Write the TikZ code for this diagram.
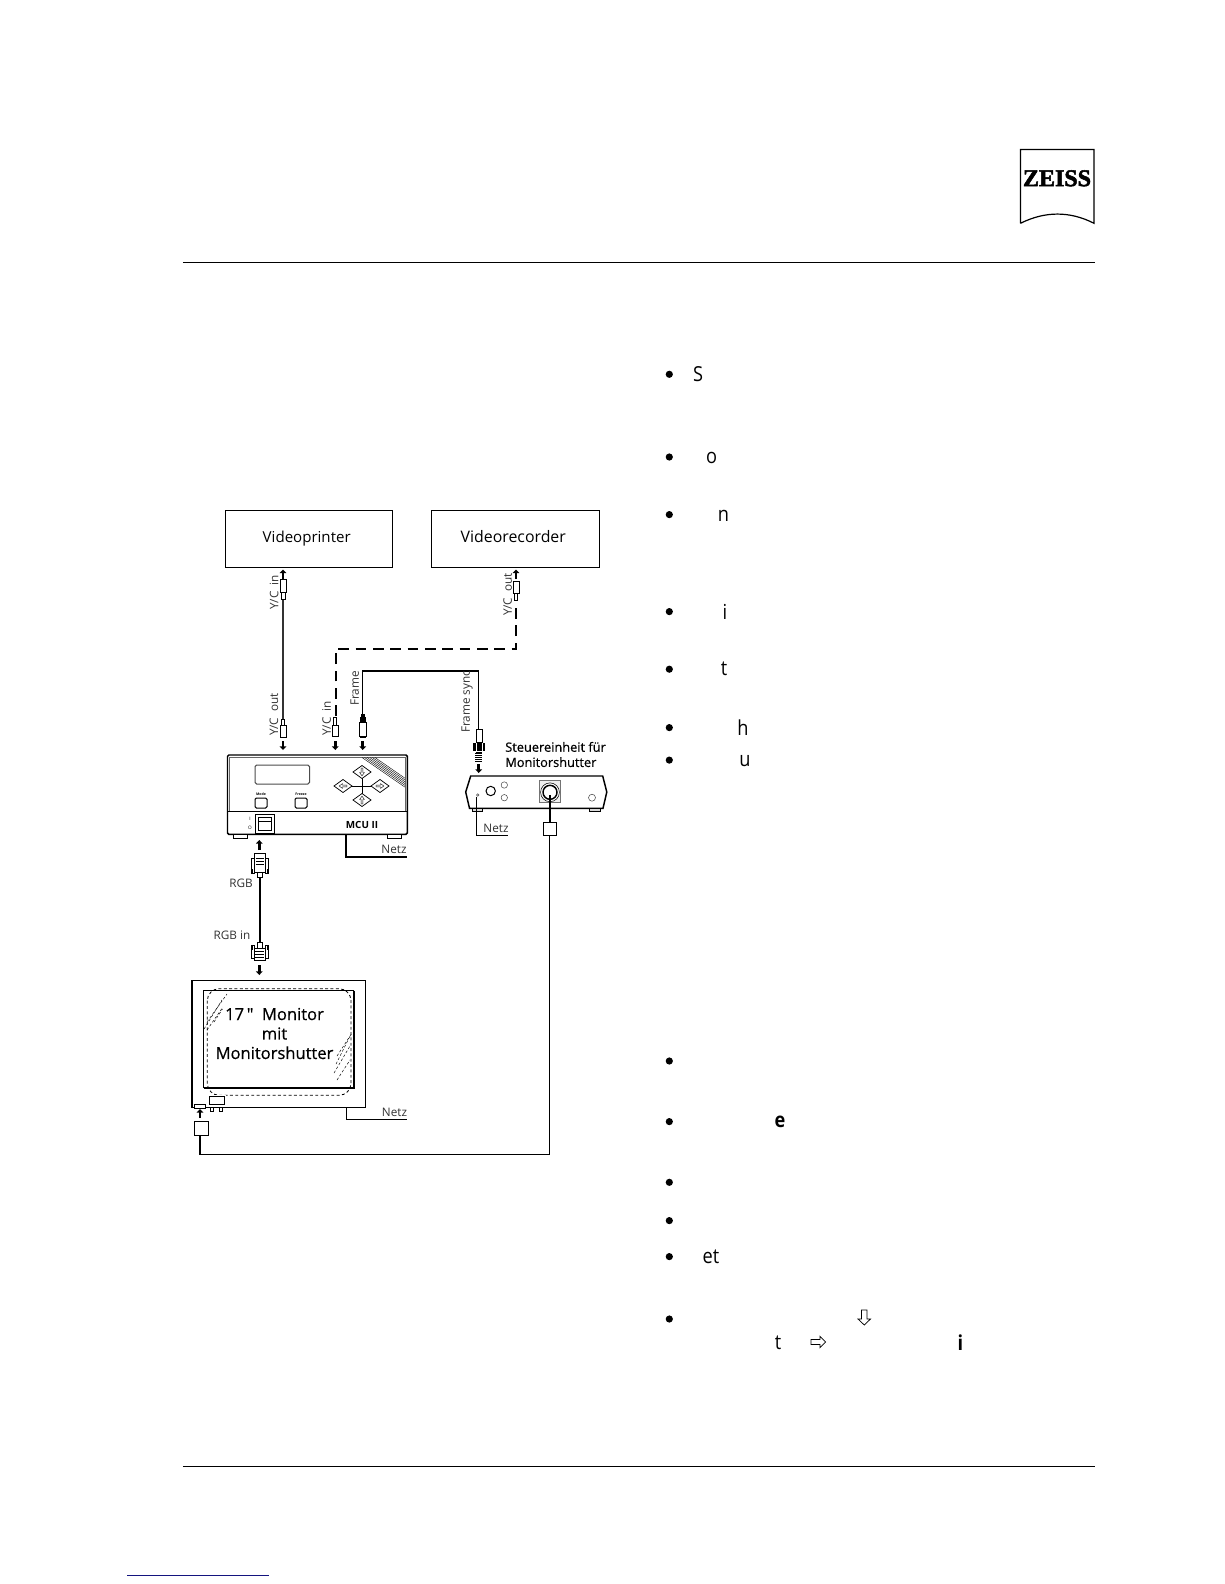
\documentclass[tikz,border=0pt]{standalone}
\usepackage{fontspec}
\setmainfont{Open Sans}
\newfontfamily\plainfont[FakeBold=0.5]{Open Sans}
\newfontfamily\heavyfont[FakeBold=0.5,Ligatures=TeX]{Open Sans}
\newfontfamily\lgfont[FakeBold=2.2]{Liberation Serif}
\newfontfamily\arfont[FakeStretch=0.88]{Open Sans}
\usetikzlibrary{calc}
\definecolor{linkblue}{HTML}{14147F}
\tikzset{
  px/.style={x=0.75pt,y=-0.75pt},
  thin line/.style={line width=0.75pt},
  mid line/.style={line width=1.1pt},
  heavy line/.style={line width=1.6pt},
  lbl/.style={inner sep=0pt,font=\fontsize{8.8}{10}\selectfont,text=black!80},
  vlbl/.style={lbl,rotate=90},
  boxlbl/.style={inner sep=0pt,anchor=base},
  monlbl/.style={inner sep=0pt,font=\heavyfont\fontsize{12.4}{14.6}\selectfont,align=center},
  frag/.style={inner sep=0pt,font=\arfont\fontsize{15.5}{18}\selectfont},
  fragb/.style={inner sep=0pt,font=\arfont\bfseries\fontsize{15.5}{18}\selectfont},
  bul/.style={circle,fill=black,inner sep=0pt,minimum size=5.4pt}
}
\newcommand{\downarr}[3]{% x, y1, y2 : thick block arrow pointing down
  \draw[line width=2pt] (#1,#2) -- (#1,#3-3);
  \fill (#1-3.4,#3-3.6) -- (#1+3.4,#3-3.6) -- (#1,#3) -- cycle;}
\newcommand{\uparr}[3]{% x, y1, y2 : thick block arrow pointing up
  \draw[line width=2pt] (#1,#2) -- (#1,#3+3);
  \fill (#1-3.4,#3+3.6) -- (#1+3.4,#3+3.6) -- (#1,#3) -- cycle;}
\newcommand{\keydiamond}[3]{%
  \draw[line width=0.55pt,fill=white] (#1-9,#2) -- (#1,#2-6.5) -- (#1+9,#2) -- (#1,#2+6.5) -- cycle;
  \draw[line width=0.3pt,shift={(#1,#2)},rotate=#3] (-4,-0.9) -- (0.5,-0.9) -- (0.5,-2.4) -- (3.8,0) -- (0.5,2.4) -- (0.5,0.9) -- (-4,0.9) -- cycle;}
\begin{document}
\begin{tikzpicture}[px]
\useasboundingbox (0,0) rectangle (1224,1584);
\fill[white] (0,0) rectangle (1224,1584);
% page rules
\coordinate (rtL) at (182.8,262.5); \coordinate (rtR) at (1095,262.5);
\coordinate (rbL) at (182.8,1466.5); \coordinate (rbR) at (1095,1466.5);
\draw[thin line] (rtL) -- (rtR);
\draw[thin line] (rbL) -- (rbR);
\coordinate (lkL) at (127,1575); \coordinate (lkR) at (268.7,1575);
\draw[linkblue,thin line] (lkL) -- (lkR);
% logo
\draw[line width=0.9pt] (1020.5,223.3) -- (1020.5,149.5) -- (1094,149.5) -- (1094,223.3)
   .. controls (1070,211) and (1045,211) .. (1020.5,223.3);
\node[inner sep=0pt] (logo) at (1057,178.3) {\lgfont\bfseries\fontsize{18}{18}\selectfont ZEISS};
% boxes
\node[draw,mid line,minimum width=125.2pt,minimum height=42.8pt,inner sep=0pt] (printer) at (308.8,538.8) {};
\node[boxlbl,font=\fontsize{11.3}{13}\selectfont] (printerT) at (306.7,542) {Videoprinter};
\node[draw,mid line,minimum width=125.7pt,minimum height=42.8pt,inner sep=0pt] (recorder) at (515.5,538.8) {};
\node[boxlbl,font=\fontsize{11.9}{13}\selectfont] (recorderT) at (513.3,542) {Videorecorder};
% Cables
\coordinate (p1) at (283,598); \coordinate (p2) at (283,719);
\draw[line width=1.1pt,black!80] (p1) -- (p2);
% dashed
\coordinate (d1) at (336,716); \coordinate (d2) at (336,649); \coordinate (d3) at (516,649); \coordinate (d4) at (516,602);
\draw[line width=1.2pt,dash pattern=on 8pt off 5pt] (d1) -- (d2) -- (d3) -- (d4);
% frame
\coordinate (f1) at (362.7,714); \coordinate (f2) at (362.7,671); \coordinate (f3) at (478.7,671); \coordinate (f4) at (478.7,729.5);
\draw[line width=1.1pt] (f1) -- (f2) -- (f3) -- (f4);
% plugs
\uparr{283}{579}{569.5}
\draw[thin line,fill=white] (280,579) rectangle (286,592);
\draw[thin line,fill=white] (281,592) rectangle (285,599);
\draw[thin line,fill=white] (280,725) rectangle (286,737);
\draw[thin line,fill=white] (281.5,719) rectangle (284.5,725);
\downarr{283}{741}{750}
\uparr{516}{579}{569.5}
\draw[thin line,fill=white] (513.3,581) rectangle (519.3,593.5);
\draw[thin line,fill=white] (514.8,593.5) rectangle (517.2,600);
\draw[thin line,fill=white] (332.3,725) rectangle (338.3,736);
\draw[thin line,fill=white] (333.8,717) rectangle (336.8,725);
\downarr{335.3}{741}{750}
\fill (360.7,713.5) rectangle (364.7,717);
\fill (359.5,717) rectangle (366,722);
\draw[thin line,fill=white] (359.5,722) rectangle (366,736);
\fill (360,736) rectangle (365.5,738);
\downarr{362.7}{741}{750}
\draw[thin line,fill=white] (476,729.5) rectangle (482.3,742.7);
\fill (473.3,742.7) rectangle (485,750.7);
\draw[white,line width=0.4pt] (476.5,742.7) -- (476.5,750.7) (482,742.7) -- (482,750.7);
\draw[thin line] (475.5,752) -- (482,752);
\foreach \yy in {753.5,755.5,757.5,759.5,761.5} \draw[line width=1.1pt] (475.3,\yy) -- (482.3,\yy);
\downarr{478.7}{764}{773}
% vertical labels
\node[vlbl] (l1) at (274,592.5) {Y/C\ \ in};
\node[vlbl] (l2) at (274,714.5) {Y/C\ \ out};
\node[vlbl] (l3) at (326.5,718.5) {Y/C\ \ in};
\node[vlbl] (l4) at (354.7,688.5) {Frame};
\node[vlbl] (l5) at (467.2,702) {Frame sync};
\node[vlbl] (l6) at (507.7,594.5) {Y/C\ \ out};
% MCU
\draw[line width=1.1pt,fill=white,rounded corners=1pt] (227.5,755) rectangle (407.3,834.3);
\draw[line width=0.35pt,black!60] (229.5,757.5) rectangle (405,811);
\draw[thin line] (227.5,811.7) -- (407.3,811.7);
\draw[thin line,fill=white] (233,834.3) rectangle (247,838);
\draw[thin line,fill=white] (387,834.3) rectangle (401,838);
\draw[thin line,rounded corners=1.2pt,black!70] (255,765) rectangle (309.5,784);
\draw[thin line,rounded corners=1pt] (255,798) rectangle (267,808);
\draw[thin line,rounded corners=1pt] (295,798) rectangle (307,808);
\node[inner sep=0pt,font=\bfseries\fontsize{2.6}{3}\selectfont] (t1) at (261,794.5) {Mode};
\node[inner sep=0pt,font=\bfseries\fontsize{2.6}{3}\selectfont] (t2) at (301,794.5) {Freeze};
\draw[thin line] (343,786) -- (380,786) (362,772) -- (362,800);
\keydiamond{362}{772}{-90}\keydiamond{343}{786}{180}\keydiamond{380}{786}{0}\keydiamond{362}{800}{90}
\foreach \dd in {0,2.6,5.2,7.8,10.4,13} \draw[line width=0.3pt] (362+\dd,757.5) -- (405,{757.5+(43-\dd)*0.69});
\draw[thin line,fill=white] (255,814) rectangle (274,833);
\draw[thin line] (258,817) rectangle (271,830);
\draw[thin line] (258,821) -- (271,821);
\node[inner sep=0pt,font=\fontsize{3.5}{4}\selectfont] (t3) at (250,818.5) {I};
\node[inner sep=0pt,font=\fontsize{3.5}{4}\selectfont] (t4) at (250,827.5) {O};
\node[inner sep=0pt,font=\bfseries\fontsize{7.4}{8}\selectfont] (mcu) at (362,824.5) {MCU II};
\coordinate (nA) at (346,834.3); \coordinate (nB) at (346,857); \coordinate (nC) at (407,857);
\draw[line width=1.2pt] (nA) -- (nB) -- (nC);
\node[lbl] (netz1) at (394,849) {Netz};
% RGB
\uparr{259.3}{850}{840}
\draw[thin line,fill=white] (254,853) rectangle (265,872);
\draw[thin line,fill=white] (251.5,858) rectangle (254,873);
\draw[thin line,fill=white] (265,858) rectangle (268,873);
\fill (251.5,869) rectangle (253,874);\fill (266.5,869) rectangle (268,874);
\draw[line width=0.5pt] (255.5,858) -- (263.5,858) (255.5,861) -- (263.5,861) (255.5,864) -- (263.5,864);
\draw[thin line,fill=white] (257,872) rectangle (262,877);
\coordinate (r1) at (260,877); \coordinate (r2) at (260,942);
\draw[line width=1.4pt] (r1) -- (r2);
\draw[thin line,fill=white] (257.7,942) rectangle (262,948);
\draw[thin line,fill=white] (254,948) rectangle (265,960);
\draw[thin line,fill=white] (251.5,945) rectangle (254,958);
\draw[thin line,fill=white] (265,945) rectangle (268,958);
\fill (251.5,945) rectangle (253,950);\fill (266.5,945) rectangle (268,950);
\draw[line width=0.5pt] (255,951) -- (264,951) (255,954) -- (264,954) (255,957) -- (264,957);
\downarr{259.3}{965}{975}
\node[lbl] (rgb) at (241,883.5) {RGB};
\node[lbl] (rgbin) at (232,935.5) {RGB in};
% Monitor
\coordinate (mA) at (191.7,980.7); \coordinate (mB) at (365.3,1107.3);
\draw[thin line] (mA) -- (mB -| mA) -- (mB) -- (mA -| mB) -- cycle;
\draw[line width=1.6pt] (mA) -- (mB -| mA);
\draw[thin line] (203.7,1088) -- (203.7,990.7) -- (354.3,990.7);
\draw[line width=1.6pt] (354.3,990.7) -- (354.3,1088) -- (203.7,1088);
\draw[line width=0.6pt,dash pattern=on 2.2pt off 1.8pt,rounded corners=9pt] (207.3,988.7) rectangle (351,1095.3);
\foreach \sx/\sy/\ex/\ey in {204/1029/222/1000, 207/1022/227/994, 214/1022/222.5/1009, 207/1030/223/1007, 334/1073/350/1046, 337/1080/350/1060, 336/1064/350/1036, 337/1056/352/1033}
  \draw[line width=0.35pt,dash pattern=on 2pt off 1.5pt] (\sx,\sy) -- (\ex,\ey);
\node[monlbl] (mon) at (274.5,1033.5) {17\,{\plainfont"}\ \ Monitor\\mit\\Monitorshutter};
\fill[white] (208.5,1095) rectangle (225.5,1106);
\draw[thin line] (209.3,1096) rectangle (224.7,1104.7);
\draw[thin line,fill=white] (210.3,1107.3) rectangle (213.7,1111.5);
\draw[thin line,fill=white] (219,1107.3) rectangle (222.4,1111.5);
\draw[thin line,fill=white] (194.7,1104.3) rectangle (205.3,1108.7);
\uparr{200}{1118}{1109}
\coordinate (m1) at (346.3,1107.3); \coordinate (m2) at (346.3,1119.3); \coordinate (m3) at (406.7,1119.3);
\draw[thin line] (m1) -- (m2) -- (m3);
\node[lbl] (netz2) at (394.5,1112) {Netz};
% shutter cable
\node[draw,thin line,minimum size=10.6pt,inner sep=0pt] (sq1) at (201.5,1128.3) {};
\node[draw,thin line,minimum size=10.2pt,inner sep=0pt] (sq2) at (549.8,829) {};
\coordinate (c1) at (200,1154.7); \coordinate (c2) at (549.3,1154.7);
\coordinate (sq1b) at (200,1135.3); \coordinate (sq2b) at (549.3,835.7);
\draw[line width=1.1pt] (sq1b) -- (c1) -- (c2) -- (sq2b);
% Steuer unit
\draw[line width=1.1pt,fill=white] (470.7,776) -- (602.7,776) -- (606.8,792) -- (603,808.3) -- (469.5,808.3) -- (465.7,792) -- cycle;
\draw[thin line,fill=black!15] (472,808.3) rectangle (482.3,811);
\draw[thin line,fill=black!15] (589.3,808.3) rectangle (600.7,811);
\draw[thin line] (490.7,791) circle (4.7);
\draw[line width=0.4pt,black!70] (504.3,785) circle (3.2);
\draw[line width=0.4pt,black!70] (504.3,797.7) circle (3.2);
\draw[line width=0.4pt,black!70] (477.7,795) circle (1.2);
\draw[line width=0.4pt,black!70] (592,797.7) circle (3.5);
\draw[line width=0.4pt,black!55,fill=black!6] (539.3,780) rectangle (560.3,802.7);
\draw[line width=0.4pt,fill=white] (550,792.3) circle (9.4);
\draw[line width=1.1pt,fill=white] (550,792.3) circle (7);
\coordinate (s1) at (550,795); \coordinate (s2) at (550,822.3);
\draw[line width=1.6pt] (s1) -- (s2);
\coordinate (n1) at (476.3,796.5); \coordinate (n2) at (476.3,835.7); \coordinate (n3) at (508.3,835.7);
\draw[thin line] (n1) -- (n2) -- (n3);
\node[lbl] (netz3) at (496,828.8) {Netz};
\node[inner sep=0pt,anchor=west,align=left,font=\heavyfont\fontsize{9.6}{11.4}\selectfont] (steuer) at (505,754.5) {Steuereinheit für\\Monitorshutter};
% right column
\foreach \yy/\nm in {374.3/a,457/b,514.6/c,611.6/d,669.2/e,727.6/f,760.1/g,1061/h,1121.6/i,1182.3/j,1220.6/k,1256.6/l,1319/m}
  \node[bul] (bul\nm) at (669.3,\yy) {};
\node[frag] (fa) at (698,374) {S};
\node[frag] (fb) at (711.5,457.5) {o};
\node[frag] (fc) at (723.5,515.5) {n};
\node[frag] (fd) at (725,611.5) {i};
\node[frag] (fe) at (724,669.2) {t};
\node[frag] (ff) at (743,727.6) {h};
\node[frag] (fg) at (745,760.6) {u};
\node[fragb] (fh) at (780,1121.6) {e};
\node[frag] (fi) at (711,1256.6) {et};
\node[frag] (fj) at (778,1342.6) {t};
\node[fragb] (fk) at (960.3,1342.6) {i};
% hollow arrows
\draw[line width=0.55pt] (861.5,1310) -- (867,1310) -- (867,1319) -- (870.5,1319) -- (864.3,1325) -- (858,1319) -- (861.5,1319) -- cycle;
\draw[line width=0.55pt] (811,1339.5) -- (820,1339.5) -- (820,1336.3) -- (825.7,1342) -- (820,1347.7) -- (820,1344.5) -- (811,1344.5) -- cycle;
\end{tikzpicture}
\end{document}
